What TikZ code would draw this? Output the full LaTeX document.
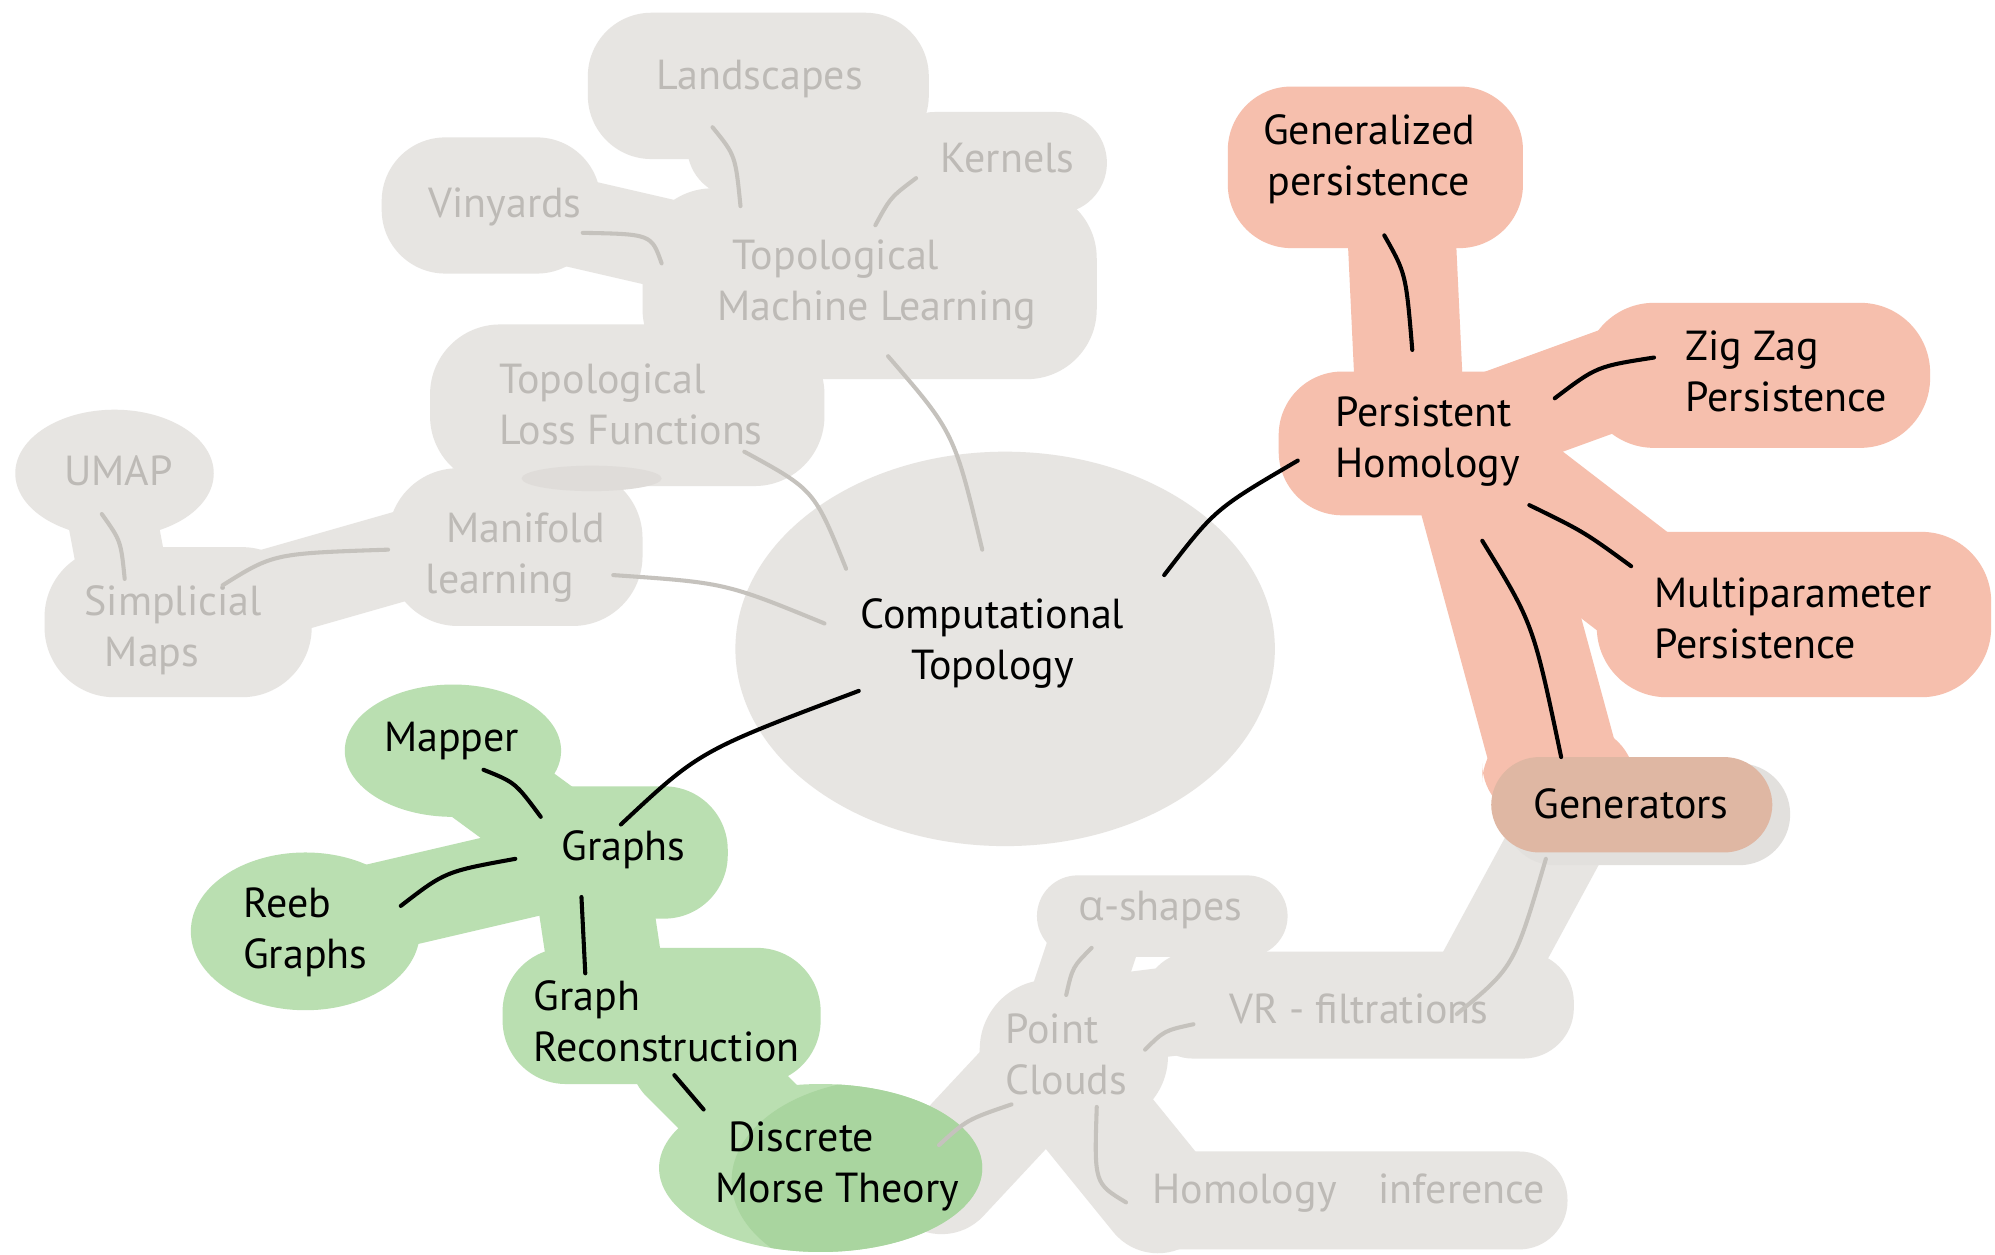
\documentclass[tikz,border=0pt]{standalone}
\usepackage{fontspec}
\setmainfont{PT Sans}
\newfontfamily\grkfont{Open Sans}
\usetikzlibrary{calc}
\definecolor{gblob}{HTML}{E7E5E2}
\definecolor{gtxt}{HTML}{BDBAB6}
\definecolor{gline}{HTML}{C5C2BD}
\definecolor{rblob}{HTML}{F6BFAD}
\definecolor{genblob}{HTML}{DFB7A3}
\definecolor{gshadow}{HTML}{E2E0DD}
\definecolor{govl}{HTML}{DFDCD9}
\definecolor{grblob}{HTML}{BADFB1}
\definecolor{dgrblob}{HTML}{A9D59F}
\begin{document}
\begin{tikzpicture}[x=1pt,y=-1pt,
  lbl/.style={font=\fontsize{33}{40}\selectfont, inner sep=2pt},
  gtext/.style={lbl, text=gtxt},
  btext/.style={lbl, text=black},
  gconn/.style={draw=gline, line width=3.2pt, line cap=round},
  bconn/.style={draw=black, line width=3.2pt, line cap=round},
  band/.style={line width=#1, line cap=round, line join=round}
]
\useasboundingbox (0,0) rectangle (1568,986);
\fill[white] (0,0) rectangle (1568,986);

% ---------- grey top blobs ----------
\begin{scope}[gblob]
\fill[rounded corners=50pt] (462,10) rectangle (730,125);
\fill[rounded corners=40pt] (695,88) rectangle (870,168);
\fill[rounded corners=50pt] (300,108) rectangle (472,215);
\fill[rounded corners=55pt] (505,148) rectangle (862,298);
\draw[band=70pt, gblob] (430,170) -- (560,200);
\draw[band=80pt, gblob] (580,115) -- (680,165);
\draw[band=60pt, gblob] (680,120) -- (740,150);
\fill[rounded corners=55pt] (338,255) rectangle (648,382);
\fill[rounded corners=55pt] (305,368) rectangle (505,492);
\fill (90,372) ellipse [x radius=78, y radius=50];
\fill[rounded corners=55pt] (35,430) rectangle (245,548);
\draw[band=70pt, gblob] (85,390) -- (100,470);
\draw[band=70pt, gblob] (200,470) -- (340,430);
\end{scope}
\fill[govl] (465,376) ellipse [x radius=55, y radius=10];
\fill[gblob] (790,510) ellipse [x radius=212, y radius=155];

% ---------- grey bottom blobs ----------
\begin{scope}[gblob]
\draw[band=75pt, gblob] (1230,650) -- (1165,770);
\fill[rounded corners=32pt] (815,688) rectangle (1012,752);
\fill[rounded corners=40pt] (898,748) rectangle (1237,832);
\fill[rounded corners=55pt] (770,770) rectangle (918,885);
\draw[band=70pt, gblob] (860,740) -- (840,800);
\draw[band=70pt, gblob] (880,800) -- (960,790);
\fill[rounded corners=38pt] (870,905) rectangle (1232,982);
\draw[band=90pt, gblob] (845,860) -- (910,940);
\draw[band=90pt, gblob] (810,850) -- (740,925);
\end{scope}
\fill[gshadow, rounded corners=40pt] (1182,600) rectangle (1407,680);

% ---------- red blobs ----------
\begin{scope}[rblob]
\fill[rounded corners=50pt] (965,68) rectangle (1197,195);
\draw[band=85pt, rblob] (1100,150) -- (1108,320);
\fill[rounded corners=50pt] (1005,292) rectangle (1217,405);
\fill[rounded corners=55pt] (1245,238) rectangle (1517,352);
\draw[band=80pt, rblob] (1180,330) -- (1290,290);
\fill[rounded corners=55pt] (1255,418) rectangle (1565,548);
\draw[band=95pt, rblob] (1170,370) -- (1300,470);
\draw[band=100pt, rblob] (1165,390) -- (1222,600);
\fill[rounded corners=45pt] (1165,570) rectangle (1285,645);
\end{scope}
\fill[genblob, rounded corners=38pt] (1172,595) rectangle (1393,670);

% ---------- green blobs ----------
\begin{scope}[grblob]
\fill (356,590) ellipse [x radius=85, y radius=52];
\fill[rounded corners=50pt] (398,618) rectangle (572,722);
\draw[band=75pt, grblob] (375,610) -- (450,665);
\fill (240,732) ellipse [x radius=90, y radius=62];
\draw[band=70pt, grblob] (290,715) -- (440,680);
\draw[band=90pt, grblob] (465,690) -- (480,790);
\fill[rounded corners=50pt] (395,745) rectangle (645,852);
\draw[band=90pt, grblob] (540,830) -- (610,900);
\fill (645,918) ellipse [x radius=127, y radius=66];
\end{scope}
\begin{scope}
\clip (645,918) ellipse [x radius=127, y radius=66];
\fill[dgrblob] (700,928) ellipse [x radius=125, y radius=80];
\end{scope}

% ---------- text nodes ----------
\node[gtext] (land) at (597,62) {Landscapes};
\node[gtext] (kern) at (792,124) {Kernels};
\node[gtext] (viny) at (397,163) {Vinyards};
\node[gtext, align=left] (tml) at (689,224) {\hspace*{12pt}Topological\\Machine Learning};
\node[gtext, align=left] (tlf) at (496,318) {Topological\\Loss Functions};
\node[gtext] (umap) at (93,370) {UMAP};
\node[gtext, align=left] (mani) at (405,438) {\hspace*{16pt}Manifold\\learning};
\node[gtext, align=left] (simp) at (136,495) {Simplicial\\\hspace*{16pt}Maps};
\node[btext, align=center] (ct) at (780,506) {Computational\\Topology};

\node[btext, align=center] (gp) at (1076,125) {Generalized\\persistence};
\node[btext, align=left] (ph) at (1122,347) {Persistent\\Homology};
\node[btext, align=left] (zz) at (1404,292) {Zig Zag\\Persistence};
\node[btext, align=left] (mp) at (1409,486) {Multiparameter\\Persistence};
\node[btext] (gen) at (1282,632) {Generators};

\node[btext] (mapper) at (355,582) {Mapper};
\node[btext] (graphs) at (490,668) {Graphs};
\node[btext, align=left] (reeb) at (240,733) {Reeb\\Graphs};
\node[btext, align=left] (gr) at (524,803) {Graph\\Reconstruction};
\node[btext, align=left] (dmt) at (658,917) {\hspace*{10pt}Discrete\\Morse Theory};

\node[gtext] (alpha) at (912,715) {{\grkfont α}-shapes};
\node[gtext] (vr) at (1068,793) {VR - filtrations};
\node[gtext, align=left] (pc) at (838,829) {Point\\Clouds};
\node[gtext] (hi) at (1060,938) {Homology\quad inference};

% ---------- grey connectors ----------
\draw[gconn] ($(land)+(-37,38)$) .. controls (578,122) .. ($(tml)+(-107,-62)$);
\draw[gconn] ($(kern)+(-72,16)$) .. controls (700,155) .. ($(tml)+(-1,-47)$);
\draw[gconn] ($(viny)+(61,20)$) .. controls (512,184) .. ($(tml)+(-169,-17)$);
\draw[gconn] ($(tml)+(9,56)$) .. controls (750,340) .. ($(ct)+(-8,-74)$);
\draw[gconn] ($(tlf)+(89,37)$) .. controls (640,385) .. ($(ct)+(-115,-59)$);
\draw[gconn] ($(mani)+(77,14)$) .. controls (570,458) .. ($(ct)+(-132,-16)$);
\draw[gconn] ($(simp)+(39,-35)$) .. controls (215,435) .. ($(mani)+(-100,-6)$);
\draw[gconn] ($(umap)+(-13,34)$) .. controls (95,425) .. ($(simp)+(-38,-40)$);

% ---------- black connectors ----------
\draw[bconn] ($(ct)+(135,-54)$) .. controls (955,400) .. ($(ph)+(-102,15)$);
\draw[bconn] ($(gp)+(12,60)$) .. controls (1105,215) .. ($(ph)+(-12,-72)$);
\draw[bconn] ($(ph)+(100,-34)$) .. controls (1255,288) .. ($(zz)+(-104,-11)$);
\draw[bconn] ($(ph)+(80,50)$) .. controls (1245,418) .. ($(mp)+(-127,-41)$);
\draw[bconn] ($(ph)+(43,78)$) .. controls (1205,490) .. ($(gen)+(-55,-37)$);
\draw[bconn] ($(ct)+(-105,37)$) .. controls (550,590) .. ($(graphs)+(-2,-20)$);
\draw[bconn] ($(mapper)+(25,23)$) .. controls (405,615) .. ($(graphs)+(-65,-26)$);
\draw[bconn] ($(reeb)+(75,-21)$) .. controls (350,685) .. ($(graphs)+(-85,7)$);
\draw[bconn] ($(graphs)+(-33,37)$) -- ($(gr)+(-64,-38)$);
\draw[bconn] ($(gr)+(6,42)$) -- ($(dmt)+(-105,-45)$);

% ---------- grey bottom connectors ----------
\draw[gconn] ($(alpha)+(-54,30)$) .. controls (843,760) .. ($(pc)+(0,-47)$);
\draw[gconn] ($(pc)+(62,-4)$) .. controls (915,810) .. ($(vr)+(-130,12)$);
\draw[gconn] ($(pc)+(-43,39)$) .. controls (760,880) .. ($(dmt)+(80,-17)$);
\draw[gconn] ($(pc)+(24,41)$) .. controls (860,930) .. ($(hi)+(-175,7)$);
\draw[gconn] ($(vr)+(77,4)$) .. controls (1190,760) .. ($(gen)+(-67,43)$);
\end{tikzpicture}
\end{document}
